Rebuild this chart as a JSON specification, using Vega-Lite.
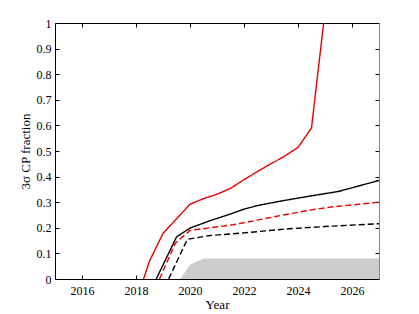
{
  "$schema": "https://vega.github.io/schema/vega-lite/v6.json",
  "width": 324,
  "height": 256,
  "autosize": {"type": "none"},
  "padding": {"left": 55, "top": 23, "right": 40, "bottom": 35},
  "background": "white",
  "config": {
    "view": {"stroke": null},
    "font": "Liberation Serif",
    "axis": {
      "grid": false,
      "domainColor": "#000000",
      "domainWidth": 1,
      "tickColor": "#000000",
      "tickWidth": 1,
      "labelFont": "Liberation Serif",
      "titleFont": "Liberation Serif",
      "labelFontSize": 12,
      "titleFontSize": 13,
      "titleFontWeight": "normal",
      "labelColor": "#000000",
      "titleColor": "#000000"
    }
  },
  "datasets": {
    "lines": [
      {"series": "red_solid", "year": 2018.28, "value": 0},
      {"series": "red_solid", "year": 2018.5, "value": 0.07},
      {"series": "red_solid", "year": 2019.0, "value": 0.178},
      {"series": "red_solid", "year": 2020.0, "value": 0.292},
      {"series": "red_solid", "year": 2020.5, "value": 0.314},
      {"series": "red_solid", "year": 2021.0, "value": 0.331},
      {"series": "red_solid", "year": 2021.5, "value": 0.354},
      {"series": "red_solid", "year": 2022.0, "value": 0.388},
      {"series": "red_solid", "year": 2022.5, "value": 0.42},
      {"series": "red_solid", "year": 2023.0, "value": 0.45},
      {"series": "red_solid", "year": 2023.5, "value": 0.48},
      {"series": "red_solid", "year": 2024.0, "value": 0.514},
      {"series": "red_solid", "year": 2024.5, "value": 0.59},
      {"series": "red_solid", "year": 2024.95, "value": 1.0},
      {"series": "black_solid", "year": 2018.75, "value": 0},
      {"series": "black_solid", "year": 2019.5, "value": 0.164},
      {"series": "black_solid", "year": 2020.0, "value": 0.199},
      {"series": "black_solid", "year": 2020.75, "value": 0.228},
      {"series": "black_solid", "year": 2021.5, "value": 0.254},
      {"series": "black_solid", "year": 2022.0, "value": 0.273},
      {"series": "black_solid", "year": 2022.5, "value": 0.287},
      {"series": "black_solid", "year": 2023.5, "value": 0.307},
      {"series": "black_solid", "year": 2024.5, "value": 0.325},
      {"series": "black_solid", "year": 2025.5, "value": 0.342},
      {"series": "black_solid", "year": 2027.0, "value": 0.385},
      {"series": "red_dashed", "year": 2018.87, "value": 0},
      {"series": "red_dashed", "year": 2019.46, "value": 0.14},
      {"series": "red_dashed", "year": 2020.0, "value": 0.19},
      {"series": "red_dashed", "year": 2020.75, "value": 0.2},
      {"series": "red_dashed", "year": 2021.6, "value": 0.212},
      {"series": "red_dashed", "year": 2022.5, "value": 0.23},
      {"series": "red_dashed", "year": 2023.5, "value": 0.251},
      {"series": "red_dashed", "year": 2024.5, "value": 0.27},
      {"series": "red_dashed", "year": 2025.3, "value": 0.282},
      {"series": "red_dashed", "year": 2027.0, "value": 0.3},
      {"series": "black_dashed", "year": 2019.21, "value": 0},
      {"series": "black_dashed", "year": 2019.9, "value": 0.155},
      {"series": "black_dashed", "year": 2020.75, "value": 0.17},
      {"series": "black_dashed", "year": 2022.0, "value": 0.18},
      {"series": "black_dashed", "year": 2023.5, "value": 0.195},
      {"series": "black_dashed", "year": 2025.0, "value": 0.205},
      {"series": "black_dashed", "year": 2027.0, "value": 0.216}
    ],
    "area": [
      {"year": 2019.64, "value": 0},
      {"year": 2020.0, "value": 0.056},
      {"year": 2020.5, "value": 0.08},
      {"year": 2027.0, "value": 0.08}
    ]
  },
  "layer": [
    {
      "data": {"name": "area"},
      "mark": {"type": "area", "color": "#cccccc", "clip": true},
      "encoding": {
        "x": {"field": "year", "type": "quantitative", "scale": {"domain": [2015, 2027], "nice": false, "zero": false},
          "axis": {"orient": "bottom", "title": "Year", "values": [2016, 2018, 2020, 2022, 2024, 2026], "format": "d", "tickSize": -4, "labelPadding": 10, "titlePadding": 2}},
        "y": {"field": "value", "type": "quantitative", "scale": {"domain": [0, 1], "nice": false},
          "axis": {"orient": "left", "title": "3σ CP fraction", "values": [0, 0.1, 0.2, 0.3, 0.4, 0.5, 0.6, 0.7, 0.8, 0.9, 1], "format": "~g", "tickSize": -4, "labelPadding": 8, "titlePadding": 4}}
      }
    },
    {
      "data": {"name": "lines"},
      "mark": {"type": "line", "strokeWidth": 1.4, "clip": true},
      "encoding": {
        "x": {"field": "year", "type": "quantitative", "axis": null},
        "y": {"field": "value", "type": "quantitative", "axis": null},
        "color": {"field": "series", "type": "nominal", "legend": null,
          "scale": {"domain": ["red_solid", "black_solid", "red_dashed", "black_dashed"], "range": ["#e80000", "#000000", "#e80000", "#000000"]}},
        "strokeDash": {"field": "series", "type": "nominal", "legend": null,
          "scale": {"domain": ["red_solid", "black_solid", "red_dashed", "black_dashed"], "range": [[1, 0], [1, 0], [6, 3], [6, 3]]}}
      }
    },
    {
      "data": {"name": "area"},
      "mark": {"type": "point", "opacity": 0},
      "encoding": {
        "x": {"field": "year", "type": "quantitative",
          "axis": {"orient": "top", "title": null, "values": [2016, 2018, 2020, 2022, 2024, 2026], "labels": false, "tickSize": -4}},
        "y": {"field": "value", "type": "quantitative",
          "axis": {"orient": "right", "title": null, "values": [0, 0.1, 0.2, 0.3, 0.4, 0.5, 0.6, 0.7, 0.8, 0.9, 1], "labels": false, "tickSize": -4, "domainColor": "#888888"}}
      }
    }
  ],
  "resolve": {"axis": {"x": "independent", "y": "independent"}}
}
